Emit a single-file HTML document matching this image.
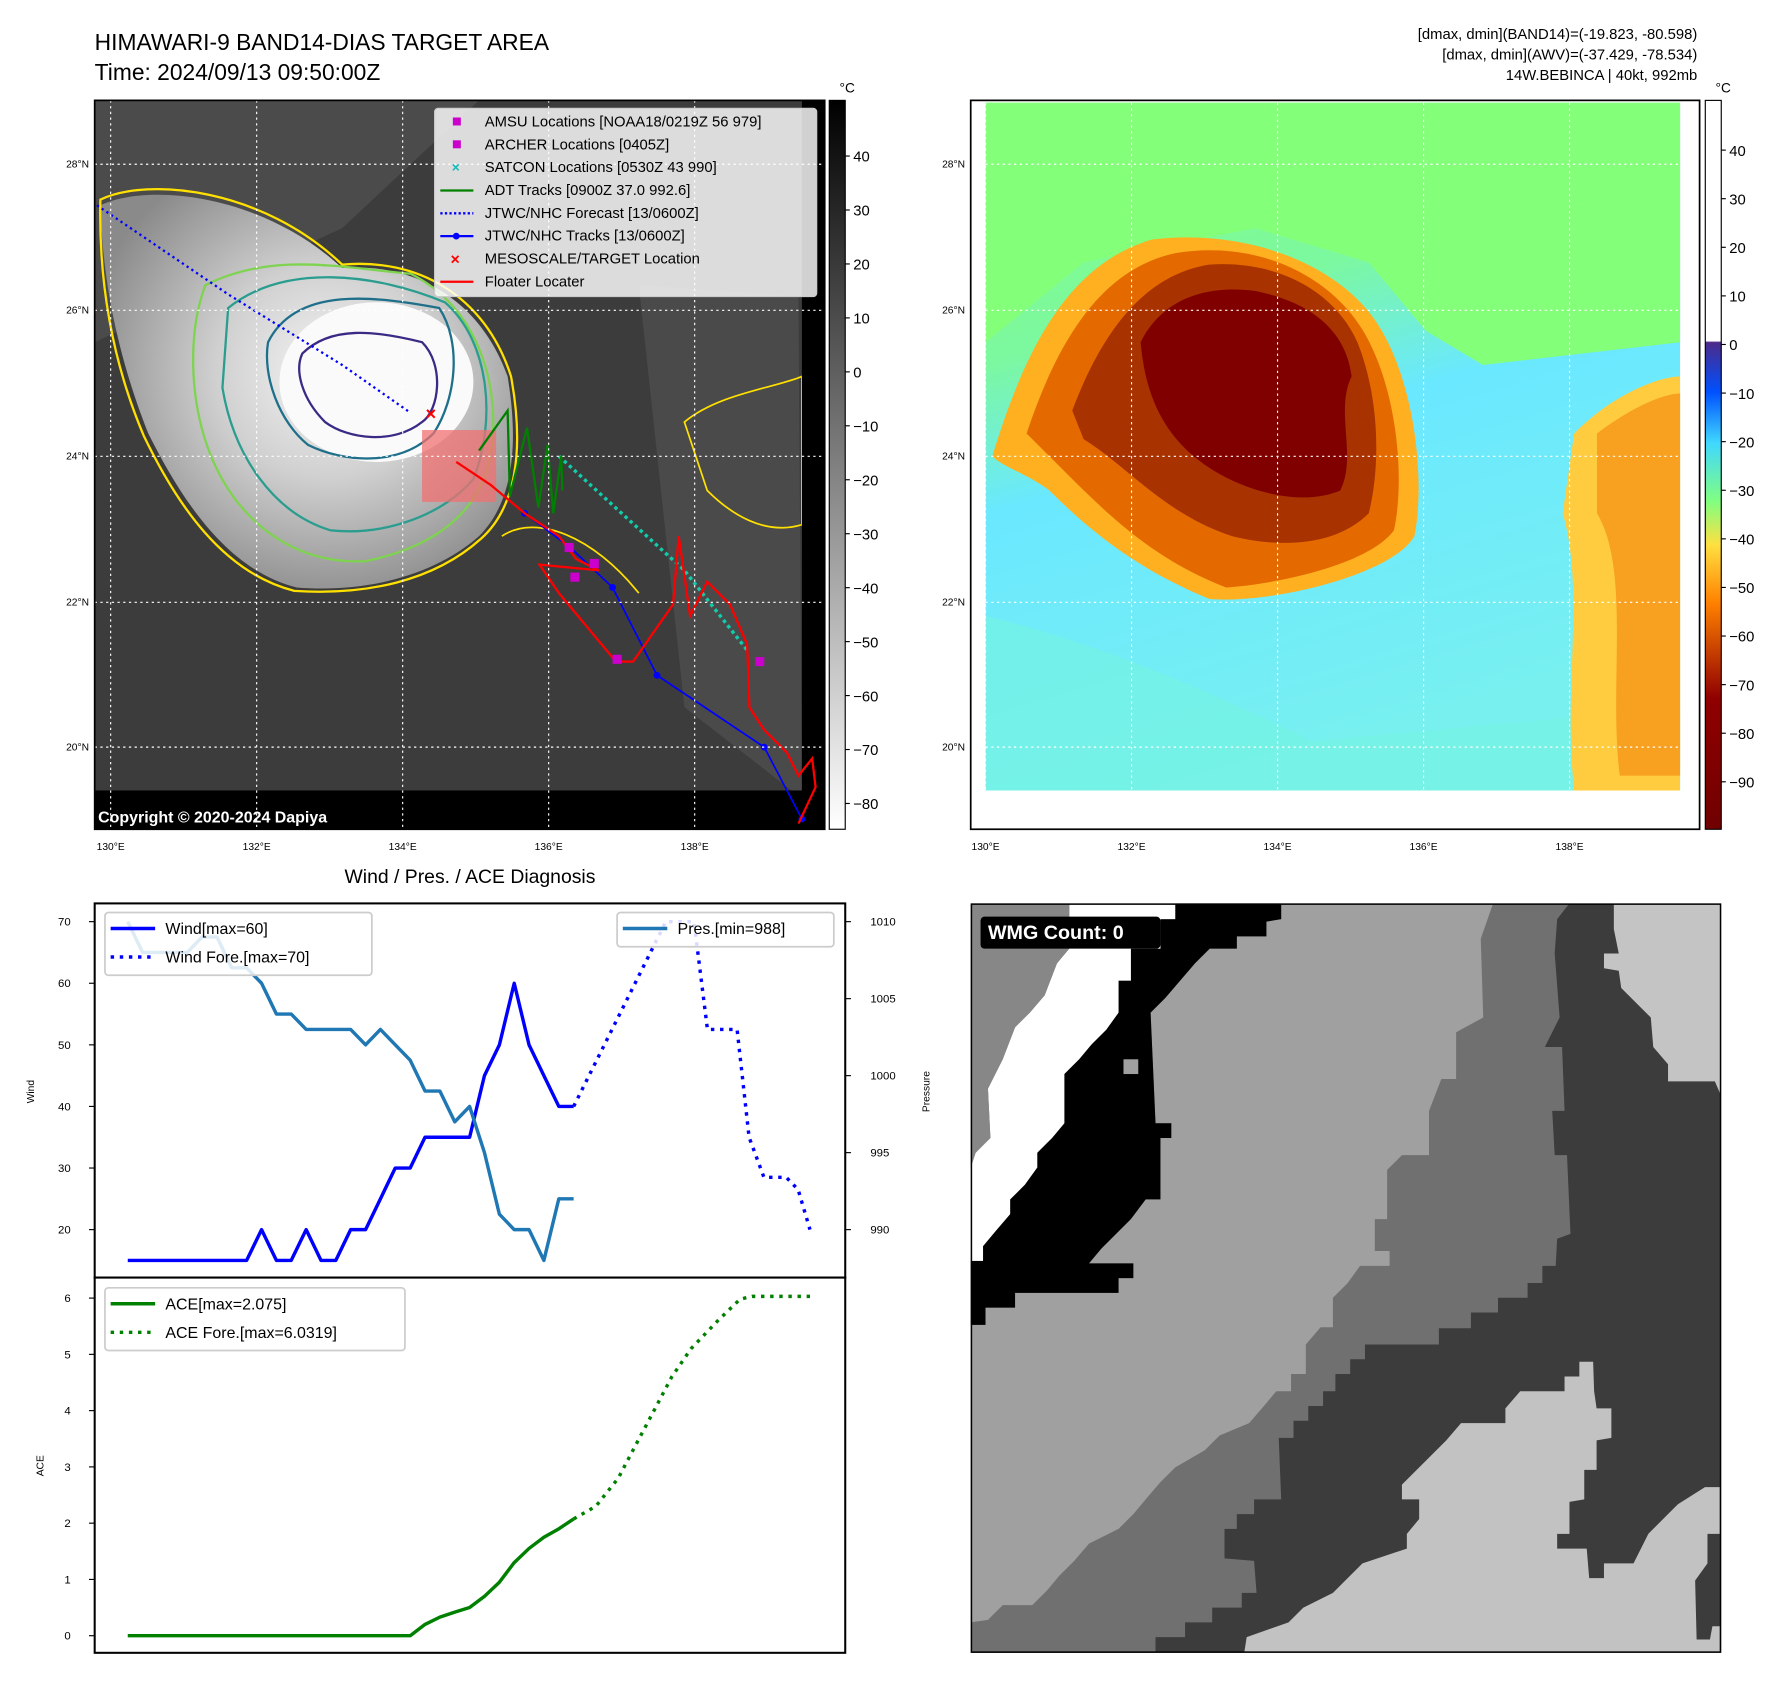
<!DOCTYPE html>
<html><head><meta charset="utf-8"><style>
html,body{margin:0;padding:0;background:#fff}
svg{display:block}
text{font-family:"Liberation Sans","DejaVu Sans",sans-serif}
</style></head><body>
<svg id="root" width="1788" height="1690" viewBox="0 0 1567.5 1481.6" xmlns="http://www.w3.org/2000/svg">
<defs>
<clipPath id="c1"><rect x="83" y="88" width="640" height="639"/></clipPath>
<clipPath id="c2"><rect x="864" y="90" width="609" height="603"/></clipPath>
<linearGradient id="cb1" x1="0" y1="0" x2="0" y2="1"><stop offset="0" stop-color="#000"/><stop offset="1" stop-color="#fff"/></linearGradient>
<linearGradient id="cb2" x1="0" y1="0" x2="0" y2="1">
<stop offset="0" stop-color="#fff"/><stop offset="0.33" stop-color="#fff"/><stop offset="0.332" stop-color="#4b2a8a"/>
<stop offset="0.4" stop-color="#0050ff"/><stop offset="0.47" stop-color="#40d8ff"/><stop offset="0.55" stop-color="#80ff80"/>
<stop offset="0.61" stop-color="#ffe040"/><stop offset="0.69" stop-color="#ff8000"/><stop offset="0.82" stop-color="#900000"/><stop offset="1" stop-color="#700000"/></linearGradient>
<radialGradient id="cloud" cx="0.55" cy="0.45" r="0.6"><stop offset="0" stop-color="#f4f4f4"/><stop offset="0.45" stop-color="#d0d0d0"/><stop offset="1" stop-color="#8a8a8a"/></radialGradient>
<linearGradient id="bg2" x1="0" y1="0" x2="0.3" y2="1"><stop offset="0" stop-color="#84ff7a"/><stop offset="0.35" stop-color="#7cf8a0"/><stop offset="0.55" stop-color="#6ae8ff"/><stop offset="1" stop-color="#78f0f0"/></linearGradient>
</defs>

<text x="83" y="44" font-size="20">HIMAWARI-9 BAND14-DIAS TARGET AREA</text>
<text x="83" y="70" font-size="20">Time: 2024/09/13 09:50:00Z</text>
<g font-size="13" text-anchor="end">
<text x="1488" y="34">[dmax, dmin](BAND14)=(-19.823, -80.598)</text>
<text x="1488" y="52">[dmax, dmin](AWV)=(-37.429, -78.534)</text>
<text x="1488" y="70">14W.BEBINCA | 40kt, 992mb</text>
</g>

<!-- MAP 1 -->
<g clip-path="url(#c1)">
<rect x="83" y="88" width="640" height="639" fill="#3c3c3c"/>
<path d="M83 88 L420 88 L300 200 L83 300Z" fill="#555" opacity="0.6"/>
<path d="M560 250 L700 260 L703 700 L600 620 Z" fill="#4a4a4a"/>
<path d="M88 180 C130 160 230 170 300 235 C360 230 420 260 445 330 C455 390 450 440 420 470 C380 505 320 520 260 515 C200 500 160 440 130 380 C110 330 90 260 88 180Z" fill="url(#cloud)"/>
<ellipse cx="330" cy="335" rx="85" ry="70" fill="#fafafa"/>
<path d="M88 175 C130 155 230 165 300 232 C365 226 425 258 448 330 C460 395 452 445 422 472 C380 510 320 522 258 518 C195 502 155 442 126 382 C104 330 86 262 88 175Z" fill="none" stroke="#ffe000" stroke-width="2"/>
<path d="M180 250 C240 220 300 235 360 240 C420 270 440 340 430 400 C420 450 380 480 320 492 C260 495 210 460 185 400 C165 350 165 290 180 250Z" fill="none" stroke="#7ed34f" stroke-width="2"/>
<path d="M200 270 C250 230 330 240 390 265 C430 300 435 370 415 420 C390 450 340 470 290 465 C240 450 205 400 195 340Z" fill="none" stroke="#2a9d8f" stroke-width="2"/>
<path d="M235 300 C260 250 330 260 385 270 C405 300 400 350 380 380 C350 410 300 405 270 390 C245 370 230 330 235 300Z" fill="none" stroke="#1e6f8a" stroke-width="2"/>
<path d="M265 310 C290 285 330 290 370 300 C390 320 385 360 370 370 C345 390 305 385 285 370 C265 350 258 325 265 310Z" fill="none" stroke="#3b2a85" stroke-width="2"/>
<path d="M600 370 C630 345 680 340 703 330 L703 460 C670 470 640 450 620 430Z" fill="none" stroke="#ffe000" stroke-width="1.5"/>
<path d="M440 470 C470 450 520 470 560 520" fill="none" stroke="#ffe000" stroke-width="1.5"/>
<rect x="83" y="693" width="640" height="34" fill="#000"/>
<rect x="703" y="88" width="20" height="639" fill="#000"/>
<rect x="370" y="377" width="65" height="63" fill="#f07070" opacity="0.75"/>
<polyline points="85,180 200,258 300,320 360,362" fill="none" stroke="#00f" stroke-width="2" stroke-dasharray="2,3"/>
<polyline points="490,400 600,500 655,570" fill="none" stroke="#1ca" stroke-width="3" stroke-dasharray="3,3"/>
<polyline points="420,395 445,360 447,435 462,375 472,445 480,390 485,450 492,400 493,430" fill="none" stroke="#008000" stroke-width="2"/>
<polyline points="460,450 500,480 537,515 576,592 670,655 703,718" fill="none" stroke="#00f" stroke-width="1.5"/>
<g fill="#00f"><circle cx="460" cy="450" r="3"/><circle cx="537" cy="515" r="3"/><circle cx="576" cy="592" r="3"/><circle cx="670" cy="655" r="3"/><circle cx="703" cy="718" r="3"/></g>
<polyline points="400,405 430,425 460,450 490,470 505,490 525,500 473,495 490,520 540,580 555,580 590,530 595,470 605,540 620,510 640,530 655,565 657,620 670,640 690,660 700,680 712,665 715,690 700,722" fill="none" stroke="#f00" stroke-width="2"/>
<g fill="#c0c"><rect x="495" y="476" width="8" height="8"/><rect x="500" y="502" width="8" height="8"/><rect x="517" y="490" width="8" height="8"/><rect x="537" y="574" width="8" height="8"/><rect x="662" y="576" width="8" height="8"/></g>
<text x="373" y="368" fill="#f00" font-size="16" font-weight="bold">×</text>
<g stroke="#fff" stroke-width="1" stroke-dasharray="2,3"><line x1="97" y1="88" x2="97" y2="727"/><line x1="225" y1="88" x2="225" y2="727"/><line x1="353" y1="88" x2="353" y2="727"/><line x1="481" y1="88" x2="481" y2="727"/><line x1="609" y1="88" x2="609" y2="727"/>
<line x1="83" y1="144" x2="723" y2="144"/><line x1="83" y1="272" x2="723" y2="272"/><line x1="83" y1="400" x2="723" y2="400"/><line x1="83" y1="528" x2="723" y2="528"/><line x1="83" y1="655" x2="723" y2="655"/></g>
<text x="86" y="721" fill="#fff" font-size="14" font-weight="bold">Copyright © 2020-2024 Dapiya</text>
</g>
<rect x="83" y="88" width="640" height="639" fill="none" stroke="#000" stroke-width="1.5"/>
<g font-size="13">
<rect x="381" y="95" width="335" height="165" fill="#fff" fill-opacity="0.82" stroke="#ccc" rx="3"/>
<rect x="397" y="103" width="7" height="7" fill="#c0c"/><text x="425" y="111">AMSU Locations [NOAA18/0219Z 56 979]</text>
<rect x="397" y="123" width="7" height="7" fill="#c0c"/><text x="425" y="131">ARCHER Locations [0405Z]</text>
<text x="396" y="151" fill="#1bb" font-weight="bold" font-size="12">×</text><text x="425" y="151">SATCON Locations [0530Z 43 990]</text>
<line x1="386" y1="167" x2="415" y2="167" stroke="#008000" stroke-width="2"/><text x="425" y="171">ADT Tracks [0900Z 37.0 992.6]</text>
<line x1="386" y1="187" x2="415" y2="187" stroke="#00f" stroke-width="2" stroke-dasharray="2,2"/><text x="425" y="191">JTWC/NHC Forecast [13/0600Z]</text>
<line x1="386" y1="207" x2="415" y2="207" stroke="#00f" stroke-width="2"/><circle cx="400" cy="207" r="3" fill="#00f"/><text x="425" y="211">JTWC/NHC Tracks [13/0600Z]</text>
<text x="395" y="232" fill="#f00" font-weight="bold" font-size="14">×</text><text x="425" y="231">MESOSCALE/TARGET Location</text>
<line x1="386" y1="247" x2="415" y2="247" stroke="#f00" stroke-width="2"/><text x="425" y="251">Floater Locater</text>
</g>
<g font-size="9" fill="#000">
<text x="97" y="745" text-anchor="middle">130°E</text><text x="225" y="745" text-anchor="middle">132°E</text><text x="353" y="745" text-anchor="middle">134°E</text><text x="481" y="745" text-anchor="middle">136°E</text><text x="609" y="745" text-anchor="middle">138°E</text>
<g text-anchor="end"><text x="78" y="147">28°N</text><text x="78" y="275">26°N</text><text x="78" y="403">24°N</text><text x="78" y="531">22°N</text><text x="78" y="658">20°N</text></g>
</g>
<g>
<rect x="727" y="88" width="14" height="639" fill="url(#cb1)" stroke="#000" stroke-width="1"/>
<text x="736" y="81" font-size="12">°C</text>
<g font-size="13" id="cb1ticks"></g>
</g>

<!-- MAP 2 -->
<g>
<rect x="851" y="88" width="639" height="639" fill="#fff"/>
<g clip-path="url(#c2)">
<rect x="864" y="90" width="609" height="603" fill="url(#bg2)"/>
<path d="M864 90 L1473 90 L1473 300 L1300 320 L1250 290 L1200 230 L1100 200 L950 230 L864 300Z" fill="#84ff7a"/>
<path d="M864 540 C950 560 1050 600 1150 650 L1473 620 L1473 693 L864 693Z" fill="#74f4e0" opacity="0.6"/>
<path d="M1380 380 C1420 340 1460 330 1473 330 L1473 693 L1380 693 C1370 600 1390 520 1370 450Z" fill="#ffcc40"/>
<path d="M1400 380 C1440 350 1465 345 1473 345 L1473 680 L1420 680 C1410 600 1430 500 1400 450Z" fill="#f8a020"/>
<path d="M870 400 C900 300 940 230 1010 210 C1090 200 1170 230 1205 280 C1240 330 1250 420 1240 470 C1220 505 1110 530 1060 525 C1000 500 960 470 920 430 C900 415 880 410 870 400Z" fill="#ffb020"/>
<path d="M900 380 C930 290 970 235 1030 222 C1100 210 1165 240 1195 290 C1225 340 1232 420 1222 465 C1200 495 1120 512 1075 515 C1010 490 970 450 930 410Z" fill="#e46a00"/>
<path d="M940 360 C970 280 1010 240 1060 232 C1120 228 1170 255 1190 300 C1210 350 1210 410 1200 450 C1170 480 1120 480 1080 470 C1020 450 990 410 950 385Z" fill="#a83200"/>
<path d="M1000 300 C1020 260 1060 250 1100 255 C1150 265 1180 290 1185 330 C1170 360 1190 400 1175 430 C1140 445 1090 430 1060 410 C1030 390 1005 360 1000 300Z" fill="#800000"/>
<g stroke="#fff" stroke-width="1" stroke-dasharray="2,3"><line x1="864" y1="90" x2="864" y2="693"/><line x1="992" y1="90" x2="992" y2="693"/><line x1="1120" y1="90" x2="1120" y2="693"/><line x1="1248" y1="90" x2="1248" y2="693"/><line x1="1376" y1="90" x2="1376" y2="693"/>
<line x1="864" y1="144" x2="1473" y2="144"/><line x1="864" y1="272" x2="1473" y2="272"/><line x1="864" y1="400" x2="1473" y2="400"/><line x1="864" y1="528" x2="1473" y2="528"/><line x1="864" y1="655" x2="1473" y2="655"/></g>
</g>
<rect x="851" y="88" width="639" height="639" fill="none" stroke="#000" stroke-width="1.5"/>
<g font-size="9"><text x="864" y="745" text-anchor="middle">130°E</text><text x="992" y="745" text-anchor="middle">132°E</text><text x="1120" y="745" text-anchor="middle">134°E</text><text x="1248" y="745" text-anchor="middle">136°E</text><text x="1376" y="745" text-anchor="middle">138°E</text>
<g text-anchor="end"><text x="846" y="147">28°N</text><text x="846" y="275">26°N</text><text x="846" y="403">24°N</text><text x="846" y="531">22°N</text><text x="846" y="658">20°N</text></g></g>
</g>
<g>
<rect x="1495" y="88" width="14" height="639" fill="url(#cb2)" stroke="#000" stroke-width="1"/>
<text x="1504" y="81" font-size="12">°C</text>
<g font-size="13" id="cb2ticks"></g>
</g>

<!-- CHART -->
<text x="412" y="774" font-size="17" text-anchor="middle">Wind / Pres. / ACE Diagnosis</text>
<g id="chart"></g>

<!-- WMG panel -->
<svg x="851" y="792" width="658" height="657" viewBox="5 8 1523 1524" preserveAspectRatio="none">
<rect x="5" y="8" width="1523" height="1524" fill="#3c3c3c"/>
<polygon fill="#707070" points="1065,8 1220,8 1195,40 1190,110 1200,240 1170,300 1205,300 1210,430 1185,430 1190,520 1215,520 1222,680 1195,690 1192,745 1165,745 1165,780 1135,780 1135,810 1075,810 1075,840 1020,840 1020,872 955,872 955,905 805,905 805,935 775,935 775,965 745,965 745,1000 720,1000 720,1030 690,1030 690,1060 660,1060 660,1095 630,1095 635,1220 580,1220 580,1250 545,1250 545,1280 520,1280 520,1340 580,1345 585,1410 555,1410 555,1440 495,1440 495,1470 440,1470 440,1500 380,1500 380,1532 5,1532 5,8"/>
<polygon fill="#a0a0a0" points="635,8 1065,8 1040,80 1045,240 990,270 990,365 960,365 935,430 935,520 880,520 850,550 850,650 825,650 825,715 855,715 855,745 795,745 770,780 740,810 740,870 715,870 685,905 685,965 655,965 655,1000 625,1000 600,1030 570,1065 510,1090 480,1120 420,1155 390,1185 360,1220 335,1250 305,1280 245,1310 215,1345 185,1375 160,1405 130,1435 70,1435 40,1465 5,1470 5,865 35,865 35,830 95,830 95,800 305,800 305,770 335,770 335,740 245,740 270,710 300,680 330,650 360,610 390,610 390,485 412,485 412,455 380,455 370,230 400,200 430,165 460,130 490,100 545,100 545,75 605,75 605,45 635,40"/>
<polygon fill="#000" points="420,8 635,8 635,40 605,45 605,75 545,75 545,100 490,100 460,130 430,165 400,200 370,230 380,455 412,455 412,485 390,485 390,610 360,610 330,650 300,680 270,710 245,740 335,740 335,770 305,770 305,800 95,800 95,830 35,830 35,865 5,865 5,735 30,735 30,705 55,675 85,640 85,610 115,580 140,545 140,515 170,485 195,455 195,355 225,325 250,295 280,265 305,230 305,165 330,165 330,100 390,100 390,40 420,40"/>
<polygon fill="#fff" points="205,8 420,8 420,40 390,40 390,100 330,100 330,165 305,165 305,230 280,265 250,295 225,325 195,355 195,455 170,485 140,515 140,545 115,580 85,610 85,640 55,675 30,705 30,735 5,735 5,545 15,515 45,485 40,385 70,325 95,260 125,230 155,195 180,130 205,100"/>
<polygon fill="#878787" points="5,8 205,8 205,100 180,130 155,195 125,230 95,260 70,325 40,385 45,485 15,515 5,545"/>
<rect x="315" y="325" width="30" height="30" fill="#a0a0a0"/>
<polygon fill="#c4c4c4" points="1310,8 1528,8 1528,400 1515,370 1420,370 1420,335 1390,300 1385,240 1355,210 1325,180 1320,145 1290,140 1290,110 1320,110 1310,60"/>
<polygon fill="#c2c2c2" points="1240,940 1268,940 1270,1000 1275,1035 1305,1035 1305,1095 1275,1100 1275,1160 1250,1160 1250,1220 1220,1225 1220,1290 1195,1290 1195,1320 1255,1320 1260,1380 1290,1380 1290,1350 1350,1350 1380,1290 1410,1260 1440,1230 1495,1195 1525,1195 1525,1290 1500,1290 1500,1350 1475,1385 1478,1505 1505,1505 1510,1478 1525,1478 1525,1532 560,1532 565,1500 650,1470 680,1440 740,1410 770,1380 800,1350 890,1320 890,1290 915,1260 915,1220 880,1220 880,1190 910,1160 940,1130 970,1100 1000,1065 1090,1065 1090,1035 1120,1000 1210,1000 1210,970 1240,970"/>
<rect x="25" y="35" width="365" height="65" rx="8" fill="#000"/>
<text x="40" y="80" fill="#fff" font-size="40" font-weight="bold">WMG Count: 0</text>
<rect x="5" y="8" width="1523" height="1524" fill="none" stroke="#000" stroke-width="6"/>
</svg>
</svg>
<script>
// ---- chart data ----
const windObsIdx = [0,1,2,3,4,5,6,7,8,9,10,11,12,13,14,15,16,17,18,19,20,21,22,23,24,25,26,27,28,29,30];
const windObs = [15,15,15,15,15,15,15,15,15,20,15,15,20,15,15,20,20,25,30,30,35,35,35,35,45,50,60,50,45,40,40];
const windForeIdx = [30,36.2,38.1,39,41,41.8,42.8,44.3,45.1,45.9];
const windFore = [40,70,70,52.5,52.5,35,28.5,28.5,26.5,20];
const presObs = [1010,1008,1008,1008,1008,1009,1009,1007,1007,1006,1004,1004,1003,1003,1003,1003,1002,1003,1002,1001,999,999,997,998,995,991,990,990,988,992,992];
const aceObs = [0,0,0,0,0,0,0,0,0,0,0,0,0,0,0,0,0,0,0,0,0.2,0.33,0.42,0.5,0.7,0.95,1.3,1.55,1.75,1.9,2.075];
const aceForeIdx = [30,31.5,33,34.2,35.4,36.6,37.9,39.7,41.2,42,45.9];
const aceFore = [2.075,2.3,2.8,3.4,4.0,4.6,5.1,5.6,5.98,6.03,6.03];
const windTicks = [20,30,40,50,60,70];
const presTicks = [990,995,1000,1005,1010];
const aceTicks = [0,1,2,3,4,5,6];
const cb1Ticks = [40,30,20,10,0,-10,-20,-30,-40,-50,-60,-70,-80];
const cb2Ticks = [40,30,20,10,0,-10,-20,-30,-40,-50,-60,-70,-80,-90];

const NS='http://www.w3.org/2000/svg';
function mk(tag,attrs,parent){const e=document.createElementNS(NS,tag);for(const k in attrs)e.setAttribute(k,attrs[k]);parent.appendChild(e);return e;}
const L=83,R=741,T1=792,M=1120,B=1449;
const xs=i=>112+i*13.03;
const yW=v=>808+(70-v)*5.4;
const yP=v=>808+(1010-v)*13.5;
const yA=v=>1434-v*49.33;
const g=document.getElementById('chart');
function line(xsA,ysA,fx,fy,color,w,dash,name){
  const p=mk('polyline',{points:xsA.map((x,i)=>fx(x).toFixed(1)+','+fy(ysA[i]).toFixed(1)).join(' '),fill:'none',stroke:color,'stroke-width':w,'stroke-linejoin':'round'},g);
  if(dash)p.setAttribute('stroke-dasharray',dash);
  
  
}
const presIdx=presObs.map((_,i)=>i);
line(windObsIdx,windObs,xs,yW,'#0000ff',3,null,'wind-line');
line(windForeIdx,windFore,xs,yW,'#0000ff',3,'3,5','wind-forecast-line');
line(presIdx,presObs,xs,yP,'#1f77b4',3,null,'pressure-line');
line(presIdx,aceObs,xs,yA,'#008000',3,null,'ace-line');
line(aceForeIdx,aceFore,xs,yA,'#008000',3,'3,5','ace-forecast-line');
const f1=mk('rect',{x:L,y:T1,width:R-L,height:M-T1,fill:'none',stroke:'#000','stroke-width':1.8},g);


const f2=mk('rect',{x:L,y:M,width:R-L,height:B-M,fill:'none',stroke:'#000','stroke-width':1.8},g);


function tick(x1,x2,y,label,tx,anchor,name){
  mk('line',{x1:x1,x2:x2,y1:y,y2:y,stroke:'#000','stroke-width':1},g);
  const t=mk('text',{x:tx,y:y+3.5,'font-size':10,'text-anchor':anchor},g);t.textContent=label;
  
  
}
windTicks.forEach(v=>tick(L-5,L,yW(v),v,L-21,'end','wind-tick'));
presTicks.forEach(v=>tick(R,R+5,yP(v),v,R+22,'start','pressure-tick'));
aceTicks.forEach(v=>tick(L-5,L,yA(v),v,L-21,'end','ace-tick'));
function rot(txt,x,y,name){const t=mk('text',{x:x,y:y,'font-size':9,'text-anchor':'middle',transform:'rotate(-90 '+x+' '+y+')'},g);t.textContent=txt;
  
  }
rot('Wind',30,957,'wind-axis-title');rot('Pressure',815,957,'pressure-axis-title');rot('ACE',38,1285,'ace-axis-title');
function legend(x,y,w,h,items,name){
  const lg=mk('g',{},g);
  
  
  mk('rect',{x:x,y:y,width:w,height:h,rx:3,fill:'#fff','fill-opacity':0.85,stroke:'#ccc','stroke-width':1.5},lg);
  items.forEach((it,i)=>{const yy=y+14+i*25;
    const ln=mk('line',{x1:x+5,x2:x+44,y1:yy,y2:yy,stroke:it[1],'stroke-width':3},lg);
    if(it[2])ln.setAttribute('stroke-dasharray','3,5');
    const t=mk('text',{x:x+53,y:yy+5,'font-size':14},lg);t.textContent=it[0];});
}
legend(92,800,234,55,[['Wind[max=60]','#0000ff',0],['Wind Fore.[max=70]','#0000ff',1]],'wind-legend');
legend(541,800,190,30,[['Pres.[min=988]','#1f77b4',0]],'pressure-legend');
legend(92,1129,263,55,[['ACE[max=2.075]','#008000',0],['ACE Fore.[max=6.0319]','#008000',1]],'ace-legend');
const c1=document.getElementById('cb1ticks');
cb1Ticks.forEach(v=>{const y=326-v*4.73;mk('line',{x1:741,x2:745,y1:y,y2:y,stroke:'#000'},c1);
  const t=mk('text',{x:748,y:y+5},c1);t.textContent=v<0?'\u2212'+(-v):v;
  
  });
const c2=document.getElementById('cb2ticks');
cb2Ticks.forEach(v=>{const y=302-v*4.26;mk('line',{x1:1509,x2:1513,y1:y,y2:y,stroke:'#000'},c2);
  const t=mk('text',{x:1516,y:y+5},c2);t.textContent=v<0?'\u2212'+(-v):v;
  
  });
</script>
</body></html>
